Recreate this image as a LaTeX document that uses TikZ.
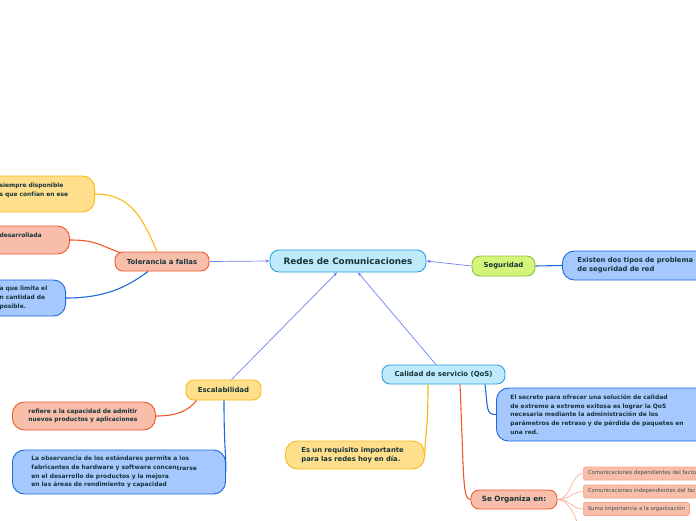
\documentclass[tikz,border=0pt]{standalone}
\usepackage{fontspec}
\setmainfont{DejaVu Sans}
\usepackage{xcolor}
\usepackage{tikz}
\usetikzlibrary{arrows.meta,positioning}
\definecolor{txt}{RGB}{22,52,58}
\definecolor{cyanfill}{RGB}{190,234,251}
\definecolor{cyanline}{RGB}{40,160,225}
\definecolor{salfill}{RGB}{249,190,170}
\definecolor{salline}{RGB}{240,88,40}
\definecolor{yelfill}{RGB}{255,222,140}
\definecolor{yelline}{RGB}{248,185,20}
\definecolor{grnfill}{RGB}{212,245,122}
\definecolor{grnline}{RGB}{140,195,60}
\definecolor{blufill}{RGB}{165,201,255}
\definecolor{bluline}{RGB}{28,104,220}
\definecolor{arrline}{RGB}{110,130,240}
\definecolor{tinyline}{RGB}{246,165,135}
\tikzset{
  central/.style={draw=cyanline, fill=cyanfill, line width=0.9pt, rounded corners=9pt,
    minimum width=156pt, minimum height=22pt, text=txt, font=\bfseries\fontsize{8.8}{10}\selectfont},
  topic/.style={line width=0.9pt, rounded corners=8pt, minimum height=19pt, text=txt,
    font=\bfseries\fontsize{6.9}{8}\selectfont},
  leaf/.style={line width=0.9pt, rounded corners=12pt, align=left, inner ysep=2pt, text=txt,
    font=\bfseries\fontsize{5.95}{8.7}\selectfont},
  tiny/.style={draw=tinyline, fill=salfill, line width=0.6pt, rounded corners=1.5pt, align=left,
    inner xsep=4.5pt, minimum height=13pt, text=txt!85, font=\fontsize{5.4}{6}\selectfont},
  salmon/.style={draw=salline, fill=salfill},
  yellow/.style={draw=yelline, fill=yelfill},
  bluish/.style={draw=bluline, fill=blufill},
  link/.style={line width=1.1pt},
  feed/.style={arrline, line width=0.7pt, -{Stealth[length=4pt,width=3.5pt]}},
}
\newcommand{\cutl}{\hspace*{16pt}}
\begin{document}
\begin{tikzpicture}[x=1pt, y=-1pt]
  \useasboundingbox (0,0) rectangle (696,520);
  \clip (0,0) rectangle (696,520);
  % main topics
  \node[central] (redes) at (348,261) {Redes de Comunicaciones};
  \node[topic, salmon, minimum width=94pt] (tol) at (162,261.5) {Tolerancia a fallas};
  \node[topic, draw=grnline, fill=grnfill, minimum width=63pt, minimum height=20pt] (seg) at (503.5,266) {Seguridad};
  \node[topic, yellow, minimum width=75pt, minimum height=20pt] (esc) at (223.5,390) {Escalabilidad};
  \node[topic, draw=cyanline, fill=cyanfill, minimum width=123pt] (qos) at (443.5,374.5) {Calidad de servicio (QoS)};
  \node[topic, salmon, minimum width=86pt, font=\bfseries\fontsize{7.2}{8}\selectfont] (org) at (514,499.5) {Se Organiza en:};
  % tolerancia a fallas
  \node[leaf, yellow, anchor=east, inner xsep=4pt, text width=107pt, minimum height=36pt] (tolyel) at (95,194)
    {\cutl siempre disponible\\\cutl s que confían en ese\\\mbox{}};
  \node[leaf, salmon, anchor=east, inner xsep=4pt, text width=82pt, minimum height=28pt] (tolsal) at (70,240)
    {\cutl desarrollada\\\mbox{}};
  \node[leaf, bluish, anchor=east, inner xsep=4pt, text width=78pt, minimum height=36pt] (tolblu) at (66,298)
    {\cutl a que limita el\\\cutl n cantidad de\\\cutl posible.};
  % seguridad
  \node[leaf, bluish, anchor=west, inner xsep=15pt, text width=150pt, minimum height=29pt,
    font=\bfseries\fontsize{6.8}{8.9}\selectfont] (segblu) at (562,265.5)
    {Existen dos tipos de problema\\de seguridad de red};
  % escalabilidad
  \node[leaf, salmon, anchor=west, inner xsep=16pt, text width=111pt, minimum height=28pt] (escsal) at (12,416)
    {refiere a la capacidad de admitir\\nuevos productos y aplicaciones};
  \node[leaf, bluish, anchor=west, inner xsep=19pt, text width=175pt, minimum height=44pt] (escblu) at (12,472)
    {La observancia de los estándares permite a los\\fabricantes de hardware y software concen\raisebox{-1.5pt}{trarse}\\en el desarrollo de productos y la mejora\\en las áreas de rendimiento y capacidad};
  % calidad de servicio
  \node[leaf, yellow, anchor=west, inner xsep=16pt, text width=107pt, minimum height=28pt,
    font=\bfseries\fontsize{6.8}{8.9}\selectfont] (qosyel) at (285,455)
    {Es un requisito importante\\para las redes hoy en día.};
  \node[leaf, bluish, anchor=west, inner xsep=14pt, text width=200pt, minimum height=53pt] (qosblu) at (496,414.5)
    {El secreto para ofrecer una solución de calidad\\de extremo a extremo exitosa es lograr la QoS\\necesaria mediante la administración de los\\parámetros de retraso y de pérdida de paquetes en\\una red.};
  % se organiza en
  \node[tiny, anchor=west, text width=140pt] (orgone) at (583,473.5) {Comunicaciones dependientes del facto};
  \node[tiny, anchor=west, text width=140pt] (orgtwo) at (583,491.5) {Comunicaciones independientes del fac};
  \node[tiny, anchor=west] (orgthree) at (583,509) {Suma importancia a la organización};
  \coordinate (orgfour) at (579,528);
  % connectors
  \draw[feed] (tol.east) -- (redes.west);
  \draw[feed] (seg.west) -- (redes.east);
  \draw[feed] ([xshift=8pt]esc.north) -- ([xshift=-11pt]redes.south);
  \draw[feed] ([xshift=-7.5pt]qos.north) -- ([xshift=10pt]redes.south);
  \draw[link, yelline] (tolyel.east) .. controls +(35,0) and +(-15,-35) .. ([xshift=-5pt]tol.north);
  \draw[link, salline] (tolsal.east) .. controls +(25,0) and +(-22,-8) .. ([xshift=-42pt,yshift=-1pt]tol.north);
  \draw[link, bluline] (tolblu.east) .. controls +(40,0) and +(-20,15) .. ([xshift=-14pt]tol.south);
  \draw[link, bluline] (seg.east) -- (segblu.west);
  \draw[link, salline] (escsal.east) .. controls +(22,0) and +(-8,10) .. ([xshift=-27pt]esc.south);
  \draw[link, bluline] ([xshift=0.5pt]esc.south) .. controls +(0,45) and +(0,-20) .. (escblu.east);
  \draw[link, yelline] ([xshift=-15.5pt]qos.south) .. controls +(0,50) and +(0,-22) .. (qosyel.east);
  \draw[link, salline] ([xshift=16.5pt]qos.south) .. controls +(4,95) and +(-8,0) .. (org.west);
  \draw[link, bluline] ([xshift=41.5pt]qos.south) .. controls +(3,25) and +(-10,0) .. (qosblu.west);
  \foreach \t in {orgone,orgtwo,orgthree}
    \draw[tinyline, line width=0.6pt] (org.east) .. controls +(14,0) and +(-12,0) .. (\t.west);
  \draw[tinyline, line width=0.6pt] (org.east) .. controls +(10,0) and +(-4,-14) .. (orgfour);
\end{tikzpicture}
\end{document}
